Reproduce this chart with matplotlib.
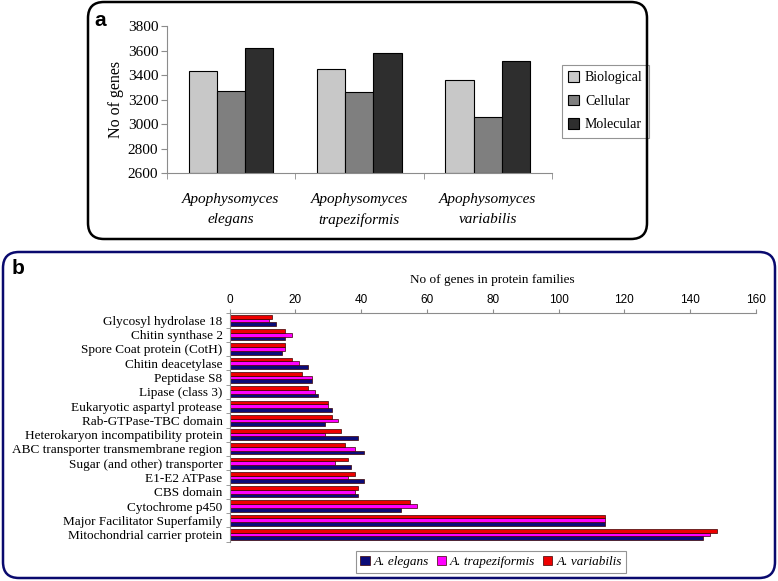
import numpy as np
import matplotlib
matplotlib.use("Agg")
import matplotlib.pyplot as plt
from matplotlib.patches import FancyBboxPatch

# ----------------------------------------------------------------
# Data
# ----------------------------------------------------------------
species_a = ["Apophysomyces\nelegans", "Apophysomyces\ntrapeziformis", "Apophysomyces\nvariabilis"]
go_terms = ["Biological", "Cellular", "Molecular"]
biological = [3433, 3452, 3362]
cellular = [3268, 3260, 3062]
molecular = [3623, 3577, 3514]
yticks_a = [2600, 2800, 3000, 3200, 3400, 3600, 3800]

families = [
    "Glycosyl hydrolase 18",
    "Chitin synthase 2",
    "Spore Coat protein (CotH)",
    "Chitin deacetylase",
    "Peptidase S8",
    "Lipase (class 3)",
    "Eukaryotic aspartyl protease",
    "Rab-GTPase-TBC domain",
    "Heterokaryon incompatibility protein",
    "ABC transporter transmembrane region",
    "Sugar (and other) transporter",
    "E1-E2 ATPase",
    "CBS domain",
    "Cytochrome p450",
    "Major Facilitator Superfamily",
    "Mitochondrial carrier protein",
]
elegans = [14, 17, 16, 24, 25, 27, 31, 29, 39, 41, 37, 41, 39, 52, 114, 144]
trapeziformis = [12, 19, 17, 21, 25, 26, 30, 33, 29, 38, 32, 36, 38, 57, 114, 146]
variabilis = [13, 17, 17, 19, 22, 24, 30, 31, 34, 35, 36, 38, 39, 55, 114, 148]
xticks_b = [0, 20, 40, 60, 80, 100, 120, 140, 160]

W, H = 778, 581
fig = plt.figure(figsize=(W / 100, H / 100), dpi=100)

serif = "Liberation Serif"
sans = "Liberation Sans"
spine_col = "#8c8c8c"


def px_axes(x0, y0, x1, y1):
    return fig.add_axes([x0 / W, 1 - y1 / H, (x1 - x0) / W, (y1 - y0) / H])


# rounded panel frames
for (x0, y0, x1, y1), col in [((88, 2, 647, 239), "black"), ((3, 252, 775, 578), "#0a0a6e")]:
    box = FancyBboxPatch((x0 / 100, (H - y1) / 100), (x1 - x0) / 100, (y1 - y0) / 100,
                         boxstyle="round,pad=0,rounding_size=0.16",
                         transform=fig.dpi_scale_trans, fill=False,
                         edgecolor=col, linewidth=1.8)
    fig.patches.append(box)

# ----------------------------------------------------------------
# Panel a
# ----------------------------------------------------------------
ax = px_axes(166.7, 26, 552, 173.3)
x = np.arange(len(species_a))
bw = 0.22
for vals, off, col, lab in [(biological, -bw, "#c8c8c8", go_terms[0]),
                            (cellular, 0, "#7f7f7f", go_terms[1]),
                            (molecular, bw, "#2e2e2e", go_terms[2])]:
    ax.bar(x + off, np.array(vals) - 2600, bw, bottom=2600, color=col,
           edgecolor="black", linewidth=0.8, label=lab)
ax.set_xlim(-0.5, 2.5)
ax.set_ylim(2600, 3800)
ax.set_yticks(yticks_a)
ax.set_yticklabels([str(v) for v in yticks_a], fontfamily=serif, fontsize=11)
ax.set_xticks(x)
ax.set_xticklabels(species_a, fontfamily=serif, fontstyle="italic", fontsize=11,
                   linespacing=1.7)
ax.set_xticks([-0.5, 0.5, 1.5, 2.5], minor=True)
ax.tick_params(axis="x", which="major", length=0, pad=14)
ax.tick_params(axis="x", which="minor", length=4, color=spine_col, direction="out")
ax.tick_params(axis="y", length=4, color=spine_col, pad=2)
ax.set_ylabel("No of genes", fontfamily=serif, fontsize=11.5, labelpad=3)
for s in ["top", "right"]:
    ax.spines[s].set_visible(False)
for s in ["left", "bottom"]:
    ax.spines[s].set_color(spine_col)
    ax.spines[s].set_linewidth(0.8)
leg = ax.legend(loc="upper left", bbox_to_anchor=(562 / W, 1 - 65 / H),
                bbox_transform=fig.transFigure, frameon=True, fancybox=False,
                prop={"family": serif, "size": 10}, handlelength=0.8,
                handleheight=0.8, handletextpad=0.4, borderpad=0.45,
                labelspacing=0.75, borderaxespad=0)
leg.get_frame().set_edgecolor("#7a7a7a")
leg.get_frame().set_linewidth(0.8)
fig.text(94 / W, 1 - 20 / H, "a", fontfamily=sans, fontweight="bold", fontsize=15,
         va="center", ha="left")

# ----------------------------------------------------------------
# Panel b
# ----------------------------------------------------------------
bx = px_axes(229.5, 313.3, 756, 541.7)
n = len(families)
ypos = np.arange(n)[::-1]  # first family at top
bh = 0.26
for vals, off, col, lab in [(elegans, -bh, "#0b0b78", "A. elegans"),
                            (trapeziformis, 0, "#ff00ff", "A. trapeziformis"),
                            (variabilis, bh, "#ee0000", "A. variabilis")]:
    bx.barh(ypos + off, vals, bh, color=col, edgecolor="#3a0000", linewidth=0.5, label=lab)
bx.set_xlim(0, 160)
bx.set_ylim(-0.5, n - 0.5)
bx.xaxis.set_ticks_position("top")
bx.xaxis.set_label_position("top")
bx.set_xticks(xticks_b)
bx.set_xticklabels([str(v) for v in xticks_b], fontfamily=sans, fontsize=8.5)
bx.tick_params(axis="x", length=3, color=spine_col, pad=2.5)
bx.set_xlabel("No of genes in protein families", fontfamily=serif, fontsize=9.5, labelpad=8)
bx.set_yticks(ypos)
bx.set_yticklabels(families, fontfamily=serif, fontsize=9.5)
bx.set_yticks(np.arange(-0.5, n, 1.0), minor=True)
bx.tick_params(axis="y", which="major", length=0, pad=5)
bx.tick_params(axis="y", which="minor", length=3, color=spine_col)
for s in ["bottom", "right"]:
    bx.spines[s].set_visible(False)
for s in ["left", "top"]:
    bx.spines[s].set_color(spine_col)
    bx.spines[s].set_linewidth(0.8)
leg2 = bx.legend(loc="center", bbox_to_anchor=(491 / W, 1 - 562 / H),
                 bbox_transform=fig.transFigure, ncol=3, frameon=True, fancybox=False,
                 prop={"family": serif, "size": 9.5, "style": "italic"},
                 handlelength=0.7, handleheight=0.7, handletextpad=0.3,
                 columnspacing=0.6, borderpad=0.35)
leg2.get_frame().set_edgecolor("#7a7a7a")
leg2.get_frame().set_linewidth(0.8)
fig.text(12 / W, 1 - 269 / H, "b", fontfamily=sans, fontweight="bold", fontsize=15,
         va="center", ha="left")

fig.savefig("out.png", dpi=100)
